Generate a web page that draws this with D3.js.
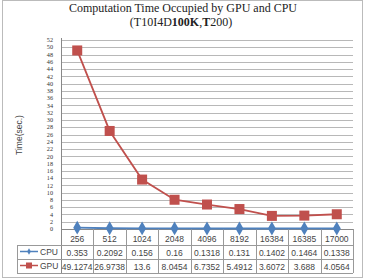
<html>
<head>
  <script src="https://d3js.org/d3.v7.min.js"></script>
  <style>
    body { margin: 0; background: white; }
    .title { font-family: "Liberation Serif", serif; font-size: 12px; fill: #222; }
    .tick-y { font-family: "Liberation Serif", serif; font-size: 6.2px; fill: #333; }
    .tbl { font-family: "Liberation Sans", sans-serif; font-size: 8.5px; fill: #444; }
  </style>
</head>
<body>
<svg id="chart" width="366" height="279"></svg>
<script>
  // categories (transaction counts) and series values
  const categories = ["256", "512", "1024", "2048", "4096", "8192", "16384", "16385", "17000"];
  const cpuValues = [0.353, 0.2092, 0.156, 0.16, 0.1318, 0.131, 0.1402, 0.1464, 0.1338];
  const gpuValues = [49.1274, 26.9738, 13.6, 8.0454, 6.7352, 5.4912, 3.6072, 3.688, 4.0564];
  const cpuLabels = ["0.353", "0.2092", "0.156", "0.16", "0.1318", "0.131", "0.1402", "0.1464", "0.1338"];
  const gpuLabels = ["49.1274", "26.9738", "13.6", "8.0454", "6.7352", "5.4912", "3.6072", "3.688", "4.0564"];
  const yTicks = d3.range(0, 53, 2);

  const svg = d3.select("#chart");
  const plot = { left: 61, right: 353, top: 40, bottom: 229 };

  // outer frame
  svg.append("rect")
    .attr("x", 2.5).attr("y", 0.5)
    .attr("width", 360).attr("height", 277)
    .attr("fill", "white").attr("stroke", "#bbb");

  // title
  svg.append("text").attr("class", "title")
    .attr("x", 183).attr("y", 12).attr("text-anchor", "middle")
    .text("Computation Time Occupied by GPU and CPU");
  const sub = svg.append("text").attr("class", "title")
    .attr("x", 181).attr("y", 26).attr("text-anchor", "middle");
  sub.append("tspan").text("(T10I4D");
  sub.append("tspan").attr("font-weight", "bold").text("100K");
  sub.append("tspan").text(",");
  sub.append("tspan").attr("font-weight", "bold").text("T");
  sub.append("tspan").text("200)");

  const x = d3.scaleBand().domain(categories).range([plot.left, plot.right]);
  const y = d3.scaleLinear().domain([0, 52]).range([plot.bottom, plot.top]);

  // gridlines
  svg.append("g").selectAll("line")
    .data(yTicks.filter(d => d > 0))
    .enter().append("line")
    .attr("x1", plot.left).attr("x2", plot.right)
    .attr("y1", d => Math.round(y(d)) + 0.5).attr("y2", d => Math.round(y(d)) + 0.5)
    .attr("stroke", "#a6a6a6").attr("stroke-width", 0.8);

  // y tick labels
  svg.append("g").selectAll("text")
    .data(yTicks)
    .enter().append("text")
    .attr("class", "tick-y")
    .attr("x", 53).attr("y", d => y(d) + 2.2)
    .attr("text-anchor", "end")
    .text(d => d);

  // y axis line
  svg.append("line")
    .attr("x1", plot.left + 0.5).attr("x2", plot.left + 0.5)
    .attr("y1", plot.top - 2).attr("y2", 273)
    .attr("stroke", "#888");

  // y axis title
  svg.append("text")
    .attr("transform", "translate(22,135) rotate(-90)")
    .attr("text-anchor", "middle")
    .attr("font-family", "Liberation Sans, sans-serif")
    .attr("font-size", 8.5).attr("fill", "#444")
    .text("Time(sec.)");

  // data table
  const rowY = [237.5, 251.5, 265.5];
  const rowBottom = 273;
  const tbl = svg.append("g");
  tbl.append("line").attr("x1", plot.left).attr("x2", plot.right)
    .attr("y1", plot.bottom + 0.5).attr("y2", plot.bottom + 0.5).attr("stroke", "#888");
  [245, 259, 273].forEach(function (yy) {
    tbl.append("line").attr("x1", 17).attr("x2", plot.right)
      .attr("y1", yy + 0.5).attr("y2", yy + 0.5).attr("stroke", "#999");
  });
  tbl.append("line").attr("x1", 17.5).attr("x2", 17.5)
    .attr("y1", 245).attr("y2", rowBottom).attr("stroke", "#999");
  // vertical rules between categories
  tbl.selectAll("line.v")
    .data(categories)
    .enter().append("line")
    .attr("class", "v")
    .attr("x1", d => Math.round(x(d) + x.bandwidth()) + 0.5)
    .attr("x2", d => Math.round(x(d) + x.bandwidth()) + 0.5)
    .attr("y1", plot.bottom).attr("y2", rowBottom)
    .attr("stroke", "#999");

  tbl.selectAll("text.cat").data(categories).enter().append("text")
    .attr("class", "tbl").attr("text-anchor", "middle")
    .attr("x", d => x(d) + x.bandwidth() / 2).attr("y", rowY[0] + 4)
    .text(d => d);
  tbl.selectAll("text.cpu").data(cpuLabels).enter().append("text")
    .attr("class", "tbl").attr("text-anchor", "middle")
    .attr("x", (d, i) => x(categories[i]) + x.bandwidth() / 2).attr("y", rowY[1] + 4)
    .text(d => d);
  tbl.selectAll("text.gpu").data(gpuLabels).enter().append("text")
    .attr("class", "tbl").attr("text-anchor", "middle")
    .attr("x", (d, i) => x(categories[i]) + x.bandwidth() / 2).attr("y", rowY[2] + 4)
    .text(d => d);

  // legend keys in table
  const cpuColor = "#4f81bd", gpuColor = "#c0504d";
  tbl.append("line").attr("x1", 20).attr("x2", 38).attr("y1", rowY[1]).attr("y2", rowY[1])
    .attr("stroke", cpuColor).attr("stroke-width", 1.5);
  tbl.append("path").attr("d", d3.symbol(d3.symbolDiamond, 12)())
    .attr("transform", "translate(29," + rowY[1] + ")").attr("fill", cpuColor);
  tbl.append("text").attr("class", "tbl").attr("x", 40).attr("y", rowY[1] + 3).text("CPU");
  tbl.append("line").attr("x1", 20).attr("x2", 38).attr("y1", rowY[2]).attr("y2", rowY[2])
    .attr("stroke", gpuColor).attr("stroke-width", 1.5);
  tbl.append("rect").attr("x", 26).attr("y", rowY[2] - 3).attr("width", 6).attr("height", 6)
    .attr("fill", gpuColor);
  tbl.append("text").attr("class", "tbl").attr("x", 40).attr("y", rowY[2] + 3).text("GPU");

  // series lines
  const line = d3.line()
    .x((d, i) => x(categories[i]) + x.bandwidth() / 2)
    .y(d => y(d));

  svg.append("path").datum(gpuValues)
    .attr("d", line).attr("fill", "none")
    .attr("stroke", gpuColor).attr("stroke-width", 1.8);
  svg.append("g").selectAll("rect")
    .data(gpuValues).enter().append("rect")
    .attr("x", (d, i) => x(categories[i]) + x.bandwidth() / 2 - 5)
    .attr("y", d => y(d) - 5)
    .attr("width", 10).attr("height", 10)
    .attr("fill", gpuColor);

  svg.append("path").datum(cpuValues)
    .attr("d", line).attr("fill", "none")
    .attr("stroke", cpuColor).attr("stroke-width", 1.8);
  svg.append("g").selectAll("path")
    .data(cpuValues).enter().append("path")
    .attr("d", d3.symbol(d3.symbolDiamond, 55)())
    .attr("transform", (d, i) => "translate(" + (x(categories[i]) + x.bandwidth() / 2) + "," + y(d) + ")")
    .attr("fill", cpuColor);
</script>
</body>
</html>
